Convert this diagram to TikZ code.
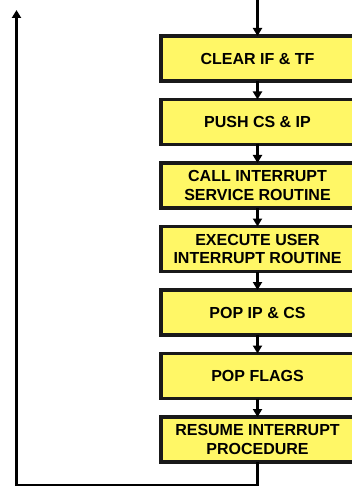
\documentclass[tikz,border=0pt]{standalone}
\usepackage{fontspec}
\setmainfont{Liberation Sans}
\usetikzlibrary{positioning,arrows.meta}

\begin{document}
\begin{tikzpicture}[x=1pt, y=1pt, node distance=18.5pt,
    stepbox/.style={draw=black!90, line width=3.2pt, fill=yellow!60!white, rectangle,
        minimum width=193pt, minimum height=45pt, outer sep=0pt, align=center,
        font=\fontsize{16}{18.5}\selectfont\bfseries},
    flow/.style={-{Triangle[width=9pt,length=8pt]}, line width=2.5pt}]
        \useasboundingbox (0,0) rectangle (352,-486);
        \clip (0,0) rectangle (352,-486);

        % Nodes
        \coordinate (start) at (257.5,0);
        \node[stepbox] (clear) at (257.5,-58.5) {CLEAR IF \& TF};
        \node[stepbox, below=of clear] (push) {PUSH CS \& IP};
        \node[stepbox, below=of push] (call) {CALL INTERRUPT\\SERVICE ROUTINE};
        \node[stepbox, below=of call] (exec) {EXECUTE USER\\INTERRUPT ROUTINE};
        \node[stepbox, below=of exec] (popip) {POP IP \& CS};
        \node[stepbox, below=of popip] (popflags) {POP FLAGS};
        \node[stepbox, below=of popflags] (resume) {RESUME INTERRUPT\\PROCEDURE};
        \coordinate (corner) at (16.5,-485.5);
        \coordinate (back) at (16.5,-10);

        % Arrows
        \draw[flow] (start) -- (clear);
        \draw[flow] (clear) -- (push);
        \draw[flow] (push) -- (call);
        \draw[flow] (call) -- (exec);
        \draw[flow] (exec) -- (popip);
        \draw[flow] (popip) -- (popflags);
        \draw[flow] (popflags) -- (resume);

        % Return path
        \draw[flow, line width=3pt] (resume.south) |- (corner) -- (back);
\end{tikzpicture}
\end{document}
